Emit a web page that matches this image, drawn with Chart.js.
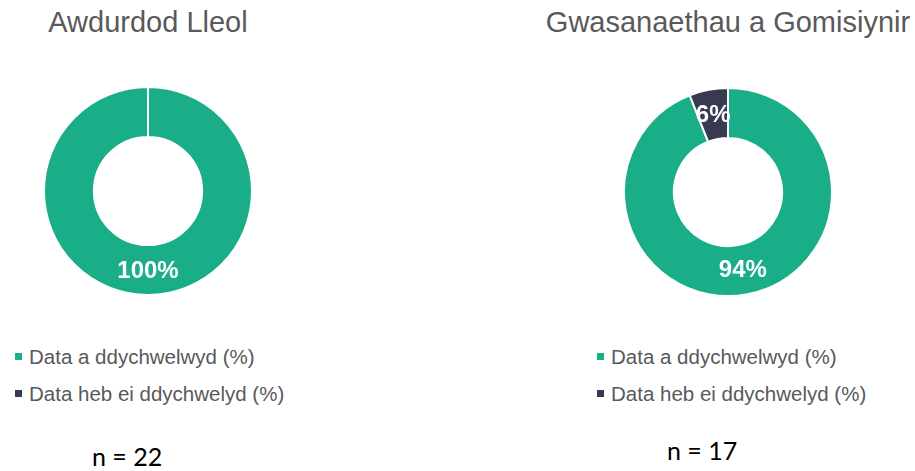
<!DOCTYPE html>
<html>
<head>
<meta charset="utf-8">
<script src="https://cdn.jsdelivr.net/npm/chart.js@4"></script>
<style>
    html, body { margin: 0; padding: 0; background: #fff; }
    #page { position: relative; width: 915px; height: 471px; overflow: hidden; font-family: "Liberation Sans", Arial, sans-serif; }
    .titulo { position: absolute; top: 6px; width: 420px; margin-left: -210px; text-align: center; font-size: 29px; color: #595959; white-space: nowrap; }
    .caja { position: absolute; width: 210px; height: 210px; }
    .leyenda { position: absolute; top: 343px; font-size: 20.5px; color: #595959; }
    .leyenda div { height: 37px; line-height: 28px; white-space: nowrap; }
    .leyenda span { display: inline-block; width: 7px; height: 7px; margin-right: 7px; vertical-align: 4px; }
    .n { position: absolute; font-family: Lato, "Open Sans", sans-serif; font-size: 25px; color: #000; white-space: nowrap; }
</style>
</head>
<body>
<div id="page">
    <div class="titulo" id="t-izq" style="left:148px"></div>
    <div class="titulo" id="t-der" style="left:728px"></div>
    <div class="caja" style="left:43px; top:86px"><canvas id="chart-izq"></canvas></div>
    <div class="caja" style="left:623px; top:87px"><canvas id="chart-der"></canvas></div>
    <div class="leyenda" id="ley-izq" style="left:15px"></div>
    <div class="leyenda" id="ley-der" style="left:597px"></div>
    <div class="n" id="n-izq" style="left:92px; top:441px"></div>
    <div class="n" id="n-der" style="left:667px; top:435px"></div>
</div>
<script>
/* ==== Datos ==== */
const TITULOS = ["Awdurdod Lleol", "Gwasanaethau a Gomisiynir"];
const ETIQUETAS = ["Data a ddychwelwyd (%)", "Data heb ei ddychwelyd (%)"];
const COLORES = ["#1aae88", "#373a50"];
const VALORES_IZQ = [100, 0];
const VALORES_DER = [94, 6];
const N_TEXTOS = ["n = 22", "n = 17"];

/* Etiquetas de porcentaje dentro del anillo */
const pluginEtiquetas = {
    id: "etiquetasPct",
    afterDatasetsDraw(chart) {
        const ctx = chart.ctx;
        const meta = chart.getDatasetMeta(0);
        const data = chart.data.datasets[0].data;
        ctx.save();
        ctx.fillStyle = "#fff";
        ctx.font = "bold 24px 'Liberation Sans', Arial, sans-serif";
        ctx.textAlign = "center";
        ctx.textBaseline = "middle";
        meta.data.forEach((arc, i) => {
            if (!data[i]) return;
            const p = arc.tooltipPosition();
            ctx.fillText(data[i] + "%", p.x, p.y + 1);
        });
        ctx.restore();
    }
};

function crearDonut(id, valores) {
    return new Chart(document.getElementById(id), {
        type: "doughnut",
        data: {
            labels: ETIQUETAS,
            datasets: [{
                data: valores,
                backgroundColor: COLORES,
                borderColor: "#fff",
                borderWidth: 2,
                hoverOffset: 0
            }]
        },
        options: {
            responsive: true,
            maintainAspectRatio: false,
            animation: false,
            cutout: "52%",
            layout: { padding: 0 },
            plugins: {
                legend: { display: false },
                tooltip: { enabled: false }
            }
        },
        plugins: [pluginEtiquetas]
    });
}

function llenarLeyenda(id) {
    const el = document.getElementById(id);
    ETIQUETAS.forEach((txt, i) => {
        const d = document.createElement("div");
        d.innerHTML = `<span style="background:${COLORES[i]}"></span>${txt}`;
        el.appendChild(d);
    });
}

document.getElementById("t-izq").textContent = TITULOS[0];
document.getElementById("t-der").textContent = TITULOS[1];
document.getElementById("n-izq").textContent = N_TEXTOS[0];
document.getElementById("n-der").textContent = N_TEXTOS[1];
llenarLeyenda("ley-izq");
llenarLeyenda("ley-der");
crearDonut("chart-izq", VALORES_IZQ);
crearDonut("chart-der", VALORES_DER);
</script>
</body>
</html>
